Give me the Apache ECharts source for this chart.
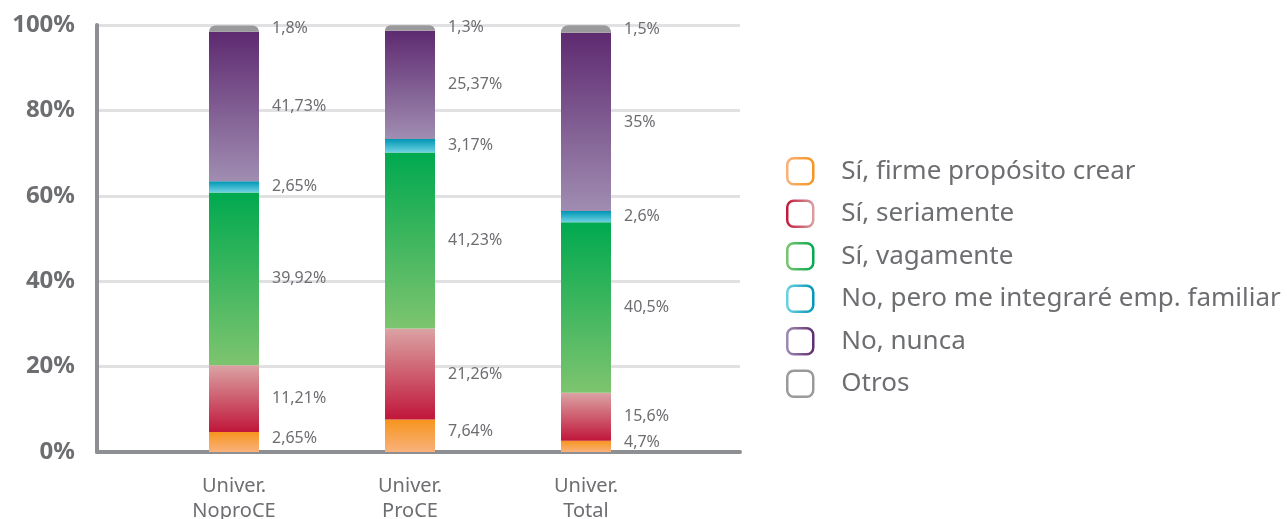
<!DOCTYPE html>
<html>
<head>
    <meta charset="utf-8">
    <title>Intención emprendedora</title>
    <script src="https://cdn.jsdelivr.net/npm/echarts@6/dist/echarts.min.js"></script>
    <style>
        html, body { margin: 0; padding: 0; background: #fff; }
        #chart { width: 1287px; height: 519px; }
    </style>
</head>
<body>
<div id="chart"></div>
<script type="text/javascript">
    // datos
    var categorias = ['Univer.\nNoproCE', 'Univer.\nProCE', 'Univer.\nTotal'];
    var nombres = ['Sí, firme propósito crear', 'Sí, seriamente', 'Sí, vagamente',
                   'No, pero me integraré emp. familiar', 'No, nunca', 'Otros'];
    // alturas de las barras tal como se ven en el gráfico
    // (en el original las barras 1 y 3 aparecen cruzadas respecto a sus etiquetas)
    var firme    = [4.7, 7.64, 2.65];
    var seria    = [15.6, 21.26, 11.21];
    var vaga     = [40.5, 41.23, 39.92];
    var familiar = [2.6, 3.17, 2.65];
    var nunca    = [35, 25.37, 41.73];
    var otros    = [1.5, 1.3, 1.8];
    // textos de las etiquetas tal como aparecen
    var etqFirme    = ['2,65%', '7,64%', '4,7%'];
    var etqSeria    = ['11,21%', '21,26%', '15,6%'];
    var etqVaga     = ['39,92%', '41,23%', '40,5%'];
    var etqFamiliar = ['2,65%', '3,17%', '2,6%'];
    var etqNunca    = ['41,73%', '25,37%', '35%'];
    var etqOtros    = ['1,8%', '1,3%', '1,5%'];
    var ejeY     = [0, 20, 40, 60, 80, 100];

    var valores = [firme, seria, vaga, familiar, nunca, otros];
    var etiquetas = [etqFirme, etqSeria, etqVaga, etqFamiliar, etqNunca, etqOtros];
    // degradados: [arriba, abajo]
    var colores = [
        ['#f7941d', '#f9b27c'],
        ['#dba3a4', '#c0163a'],
        ['#00a94f', '#7ec46f'],
        ['#0096b5', '#6fd2e2'],
        ['#5e2a71', '#a08db1'],
        ['#9a9a9c', '#9a9a9c']
    ];
    var texto = '#6d6e71';
    var fuente = 'Noto Sans';

    function grad(c) {
        return { type: 'linear', x: 0, y: 0, x2: 0, y2: 1,
                 colorStops: [{ offset: 0, color: c[0] }, { offset: 1, color: c[1] }] };
    }
    function gradLeyenda(c) {
        return { type: 'linear', x: 0, y: 0, x2: 1, y2: 0,
                 colorStops: [{ offset: 0, color: c[1] }, { offset: 1, color: c[0] }] };
    }

    var myChart = echarts.init(document.getElementById('chart'));

    var series = [];
    for (var i = 0; i < valores.length; i++) {
        (function (i) {
            series.push({
                name: nombres[i],
                type: 'bar',
                stack: 'total',
                xAxisIndex: 1,
                yAxisIndex: 1,
                barWidth: 50,
                data: valores[i],
                itemStyle: {
                    color: grad(colores[i]),
                    borderRadius: i === valores.length - 1 ? [7, 7, 0, 0] : 0
                },
                label: {
                    show: true,
                    position: 'right',
                    distance: 13,
                    color: texto,
                    fontSize: 16,
                    fontFamily: fuente,
                    offset: [0, i === 0 ? -4 : 0],
                    formatter: function (p) { return etiquetas[i][p.dataIndex]; }
                }
            });
        })(i);
    }

    var option = {
        animation: false,
        legend: {
            orient: 'vertical',
            left: 781,
            top: 152,
            itemWidth: 26,
            itemHeight: 26,
            itemGap: 14,
            icon: 'roundRect',
            textStyle: { color: texto, fontSize: 26, fontFamily: fuente, padding: [0, 0, 0, 23] },
            data: nombres.map(function (n, i) {
                return { name: n, itemStyle: { color: 'rgba(255,255,255,0)', borderColor: gradLeyenda(colores[i]), borderWidth: 2.5 } };
            })
        },
        grid: [
            { left: 97, right: 547, top: 25, bottom: 67, outerBoundsMode: 'none' },
            { left: 146, right: 613, top: 25, bottom: 67, outerBoundsMode: 'none' }
        ],
        xAxis: [
            {
                gridIndex: 0, type: 'category', data: [''],
                axisLine: { lineStyle: { color: '#8e8f93', width: 4 } },
                axisTick: { show: false }, axisLabel: { show: false }
            },
            {
                gridIndex: 1, type: 'category', data: categorias,
                axisLine: { show: false }, axisTick: { show: false },
                axisLabel: { color: texto, fontSize: 20, fontFamily: fuente, margin: 22, lineHeight: 25 }
            }
        ],
        yAxis: [
            {
                gridIndex: 0, type: 'value', min: 0, max: 100, interval: 20,
                axisLine: { show: true, lineStyle: { color: '#8e8f93', width: 4 } },
                axisTick: { show: false },
                splitLine: { lineStyle: { color: '#e1e1e3', width: 3 } },
                axisLabel: {
                    color: texto, fontSize: 24, fontWeight: 'bold', fontFamily: fuente, margin: 22,
                    formatter: function (v) { return ejeY.indexOf(v) >= 0 ? v + '%' : ''; }
                }
            },
            {
                gridIndex: 1, type: 'value', min: 0, max: 100, show: false
            }
        ],
        series: series
    };

    myChart.setOption(option);
</script>
</body>
</html>
